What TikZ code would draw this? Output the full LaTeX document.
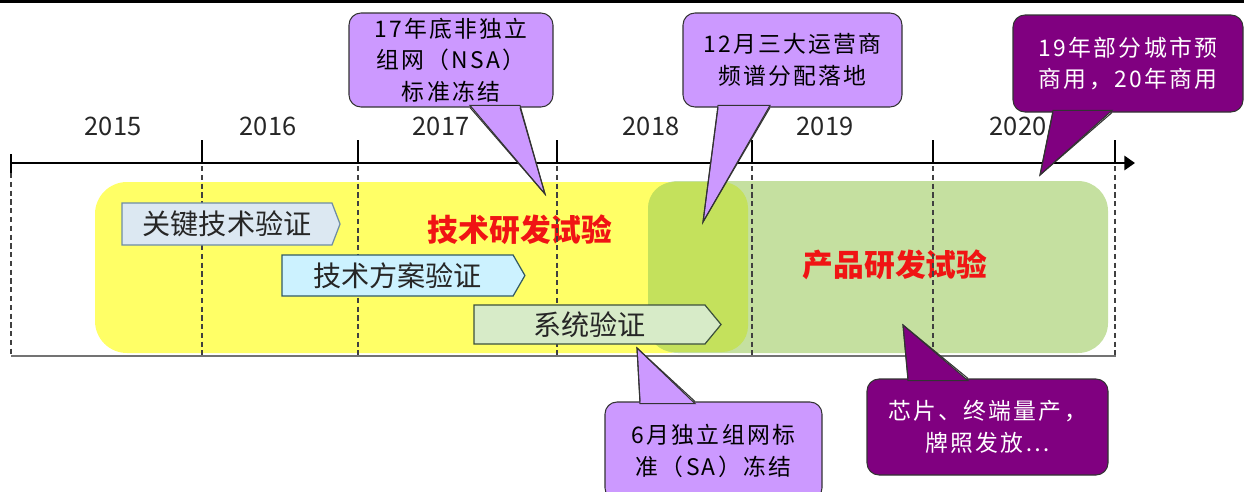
\documentclass[tikz,border=0pt]{standalone}
\usepackage{fontspec}
\setmainfont{Noto Sans CJK SC}
\newfontfamily\callfont{Noto Sans CJK SC}[LetterSpace=10]
\usetikzlibrary{
		calc,
		positioning,
		arrows.meta,
		shapes.symbols
	}
\tikzset{
		>=Triangle
	}
\definecolor{lilac}{RGB}{204,153,255}
\definecolor{plum}{RGB}{128,0,128}
\definecolor{techyellow}{RGB}{255,255,102}
\definecolor{prodgreen}{RGB}{197,224,160}
\definecolor{overlapgreen}{RGB}{196,225,92}
\definecolor{titlered}{RGB}{240,20,20}
\newcommand{\pxu}{0.02cm}
% pointer of a callout: style, anchor, left shift, right shift, inward shift, tip
\newcommand{\Pointer}[6]{
		\fill[#1] ([xshift=#3*\pxu, yshift=#5]#2) -- (#6) -- ([xshift=#4*\pxu, yshift=#5]#2) -- cycle;
		\draw[#1, fill=none] ([xshift=#3*\pxu]#2) -- (#6) -- ([xshift=#4*\pxu]#2);
	}

\begin{document}
\begin{tikzpicture}[x=0.02cm, y=-0.02cm,
					year/.style={font=\fontsize{14.5}{17}\selectfont, text=black!85},
					phase/.style={font=\fontsize{17.5}{20}\selectfont\bfseries, text=titlered},
					stage/.style={signal, signal to=east, draw, line width=0.7pt, inner sep=0pt, font=\fontsize{16}{18}\selectfont, text=black!85},
					lightcall/.style={draw=black!80, fill=lilac, line width=0.6pt},
					darkcall/.style={draw=black!80, fill=plum, line width=0.6pt},
					callbox/.style={rounded corners=12*\pxu, align=center, inner sep=0pt, font=\callfont\fontsize{13}{18}\selectfont},
					grid/.style={black!75, line width=0.6pt, dash pattern=on 3pt off 2pt}]
		\path[use as bounding box, clip] (0,0) rectangle (1244,491);
		\draw[line width=1.7pt] (0,1.5) -- (1244,1.5);
		% phases
		\fill[techyellow, rounded corners=32*\pxu] (95,182) rectangle (700,353);
		\fill[prodgreen, rounded corners=30*\pxu] (648,181) rectangle (1108,353);
		\fill[overlapgreen, rounded corners=26*\pxu] (648,182) rectangle (748,352);
		\node[phase] (techphase) at (520,230) {技术研发试验};
		\node[phase] (prodphase) at (895,265) {产品研发试验};
		% time axis
		\draw[line width=1.4pt, -{Triangle[length=6pt, width=8pt]}] (11,163) -- (1135,163);
		\draw[line width=1.1pt] (11,154) -- (11,173);
		\draw[grid] (11,173) -- (11,356);
		\foreach \t in {202, 358, 557, 752, 933, 1115} {
			\draw[line width=1.1pt] (\t,140) -- (\t,163);
			\draw[grid] (\t,166) -- (\t,356);
		}
		\draw[black!55, line width=1.2pt] (11,356) -- (1116,356);
		\node[year] (y2015) at (113,126) {2015};
		\node[year] (y2016) at (268,126) {2016};
		\node[year] (y2017) at (441,126) {2017};
		\node[year] (y2018) at (651,126) {2018};
		\node[year] (y2019) at (825,126) {2019};
		\node[year] (y2020) at (1018,126) {2020};
		% stages
		\node[stage, fill={rgb,255:red,220;green,232;blue,242}, draw={rgb,255:red,110;green,140;blue,165},
			signal pointer angle=138, minimum width=218*\pxu, minimum height=42*\pxu] (keytech) at (227,224) {关键技术验证};
		\node[stage, fill={rgb,255:red,204;green,242;blue,255}, draw={rgb,255:red,50;green,90;blue,100},
			signal pointer angle=120, minimum width=243*\pxu, minimum height=41*\pxu] (scheme) at (397.5,275.5) {技术方案验证};
		\node[stage, fill={rgb,255:red,215;green,235;blue,200}, draw={rgb,255:red,60;green,80;blue,60},
			signal pointer angle=101, minimum width=247*\pxu, minimum height=39*\pxu] (system) at (589.5,324.5) {系统验证};
		% callouts
		\coordinate (nsatip) at (545,194);
		\coordinate (spectip) at (703,222);
		\coordinate (commtip) at (1040,175);
		\coordinate (satip) at (637,348);
		\coordinate (chiptip) at (903,325);
		\node[lightcall, callbox, minimum width=204*\pxu, minimum height=94*\pxu] (nsa) at (451,60)
			{17年底非独立\\组网（NSA）\\标准冻结};
		\Pointer{lightcall}{nsa.south}{19}{69}{1.2pt}{nsatip}
		\node[lightcall, callbox, minimum width=219*\pxu, minimum height=94*\pxu] (spec) at (792.5,60)
			{12月三大运营商\\频谱分配落地};
		\Pointer{lightcall}{spec.south}{-74.5}{-22.5}{1.2pt}{spectip}
		\node[darkcall, callbox, text=white, minimum width=230*\pxu, minimum height=97*\pxu] (comm) at (1128,63.5)
			{19年部分城市预\\商用，20年商用};
		\Pointer{darkcall}{comm.south}{-75}{-16}{1.2pt}{commtip}
		\node[lightcall, callbox, minimum width=217*\pxu, minimum height=98*\pxu] (sa) at (713.5,451)
			{6月独立组网标\\准（SA）冻结};
		\Pointer{lightcall}{sa.north}{-73.5}{-18.5}{-1.2pt}{satip}
		\node[darkcall, callbox, text=white, minimum width=241*\pxu, minimum height=96*\pxu] (chip) at (987.5,427)
			{芯片、终端量产，\\牌照发放…};
		\Pointer{darkcall}{chip.north}{-79.5}{-19.5}{-1.2pt}{chiptip}
	\end{tikzpicture}
\end{document}
